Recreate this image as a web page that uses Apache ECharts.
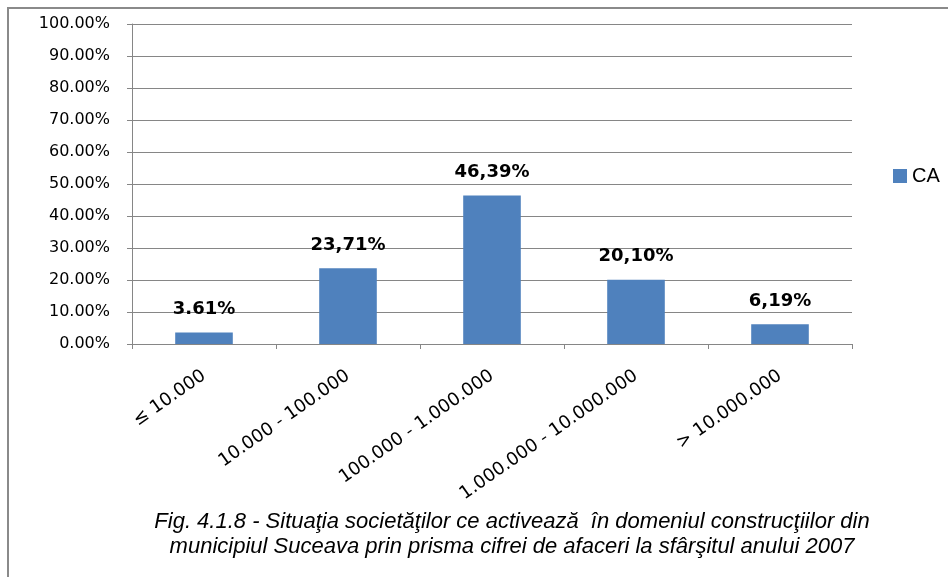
<!DOCTYPE html>
<html>
<head>
<meta charset="utf-8">
<script src="https://cdn.jsdelivr.net/npm/echarts@6/dist/echarts.min.js"></script>
<style>
  html, body { margin: 0; padding: 0; background: #fff; }
  #chart { width: 948px; height: 577px; }
</style>
</head>
<body>
<div id="chart"></div>
<script>
// categories (cifra de afaceri) and shares
const categories = ['≤ 10.000', '10.000 - 100.000', '100.000 - 1.000.000', '1.000.000 - 10.000.000', '> 10.000.000'];
const caValues = [3.61, 23.71, 46.39, 20.10, 6.19];
const caLabels = ['3.61%', '23,71%', '46,39%', '20,10%', '6,19%'];
const seriesName = 'CA';
const captionLines = [
  'Fig. 4.1.8 - Situaţia societăţilor ce activează  în domeniul construcţiilor din',
  'municipiul Suceava prin prisma cifrei de afaceri la sfârşitul anului 2007'
];

const chart = echarts.init(document.getElementById('chart'));

const option = {
  animation: false,
  backgroundColor: '#fff',
  grid: { left: 132, top: 24, right: 96, bottom: 233 },
  legend: {
    data: [{ name: seriesName, icon: 'rect' }],
    left: 888, top: 161,
    itemWidth: 14, itemHeight: 14, itemGap: 6,
    textStyle: { fontFamily: 'Liberation Sans', fontSize: 20, color: '#000' }
  },
  xAxis: {
    type: 'category',
    data: categories,
    axisLine: { lineStyle: { color: '#868686', width: 1 } },
    axisTick: { show: true, length: 5, lineStyle: { color: '#868686' } },
    axisLabel: {
      rotate: 35, margin: 30, interval: 0,
      fontFamily: 'DejaVu Sans', fontSize: 18, color: '#000'
    }
  },
  yAxis: {
    type: 'value',
    min: 0, max: 100, interval: 10,
    axisLine: { show: true, lineStyle: { color: '#868686', width: 1 } },
    axisTick: { show: true, length: 5, lineStyle: { color: '#868686' } },
    splitLine: { lineStyle: { color: '#868686', width: 1 } },
    axisLabel: {
      margin: 22,
      fontFamily: 'DejaVu Sans', fontSize: 16, color: '#000',
      formatter: v => v.toFixed(2) + '%'
    }
  },
  series: [{
    name: seriesName,
    type: 'bar',
    data: caValues,
    barWidth: '40%',
    itemStyle: { color: '#4F81BD' },
    label: {
      show: true,
      position: 'top',
      distance: 14,
      fontFamily: 'DejaVu Sans', fontWeight: 'bold', fontSize: 18, color: '#000',
      formatter: p => caLabels[p.dataIndex]
    }
  }],
  graphic: [
    { type: 'line', shape: { x1: 7, y1: 8, x2: 948, y2: 8 }, style: { stroke: '#8a8a8a', lineWidth: 2 } },
    { type: 'line', shape: { x1: 8, y1: 7, x2: 8, y2: 577 }, style: { stroke: '#8a8a8a', lineWidth: 2 } },
    {
      type: 'text', x: 512, y: 509,
      style: {
        text: captionLines.join('\n'),
        textAlign: 'center',
        fontFamily: 'Liberation Sans', fontStyle: 'italic', fontSize: 22,
        lineHeight: 25, fill: '#000'
      }
    }
  ]
};

chart.setOption(option);
</script>
</body>
</html>
